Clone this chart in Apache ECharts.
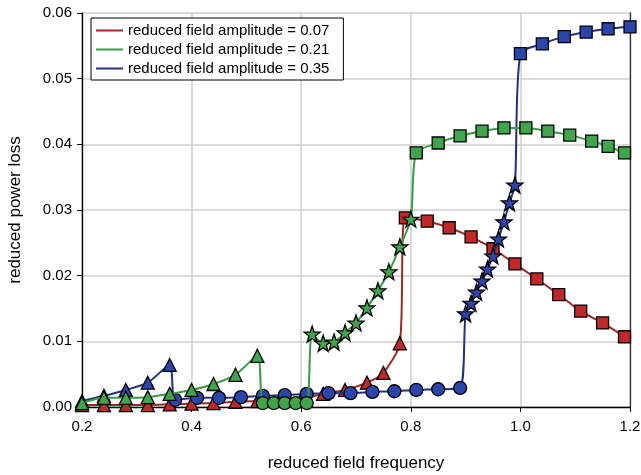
<!DOCTYPE html>
<html>
<head>
<meta charset="utf-8">
<script src="https://cdn.jsdelivr.net/npm/echarts@6/dist/echarts.min.js"></script>
<style>
html,body{margin:0;padding:0;background:#fff;}
#chart{width:641px;height:475px;}
</style>
</head>
<body>
<div id="chart"></div>
<script>
// ---- data ----
var seriesNames = ['reduced field amplitude = 0.07', 'reduced field amplitude = 0.21', 'reduced field amplitude = 0.35'];
var xTicks = [0.2, 0.4, 0.6, 0.8, 1.0, 1.2];
var yTicks = [0.00, 0.01, 0.02, 0.03, 0.04, 0.05, 0.06];

// amplitude 0.07 (red)
var redTriX = [0.20, 0.24, 0.28, 0.32, 0.36, 0.40, 0.44, 0.48, 0.52, 0.56, 0.60, 0.64, 0.68, 0.72, 0.75, 0.78];
var redTriY = [0.0003, 0.0003, 0.0003, 0.0003, 0.0004, 0.0005, 0.0006, 0.0008, 0.0009, 0.0010, 0.0012, 0.0020, 0.0026, 0.0037, 0.0052, 0.0097];
var redSqX = [0.79, 0.83, 0.87, 0.91, 0.95, 0.99, 1.03, 1.07, 1.11, 1.15, 1.19];
var redSqY = [0.0288, 0.0283, 0.0273, 0.0259, 0.0241, 0.0218, 0.0195, 0.0171, 0.0146, 0.0128, 0.0107];

// amplitude 0.21 (green)
var greenTriX = [0.20, 0.24, 0.28, 0.32, 0.36, 0.40, 0.44, 0.48, 0.52];
var greenTriY = [0.0006, 0.0014, 0.0014, 0.0015, 0.0020, 0.0026, 0.0035, 0.0049, 0.0078];
var greenCirX = [0.53, 0.55, 0.57, 0.59, 0.61];
var greenCirY = [0.0006, 0.0006, 0.0006, 0.0006, 0.0006];
var greenStarX = [0.62, 0.64, 0.66, 0.68, 0.70, 0.72, 0.74, 0.76, 0.78, 0.80];
var greenStarY = [0.0111, 0.0097, 0.0099, 0.0113, 0.0128, 0.0151, 0.0177, 0.0206, 0.0244, 0.0286];
var greenSqX = [0.81, 0.85, 0.89, 0.93, 0.97, 1.01, 1.05, 1.09, 1.13, 1.16, 1.19];
var greenSqY = [0.0387, 0.0402, 0.0413, 0.0420, 0.0425, 0.0425, 0.0420, 0.0414, 0.0405, 0.0397, 0.0387];

// amplitude 0.35 (blue)
var blueTriX = [0.20, 0.24, 0.28, 0.32, 0.36];
var blueTriY = [0.0009, 0.0017, 0.0026, 0.0037, 0.0064];
var blueCirX = [0.37, 0.41, 0.45, 0.49, 0.53, 0.57, 0.61, 0.65, 0.69, 0.73, 0.77, 0.81, 0.85, 0.89];
var blueCirY = [0.0011, 0.0014, 0.0014, 0.0015, 0.0017, 0.0018, 0.0020, 0.0021, 0.0021, 0.0023, 0.0024, 0.0026, 0.0027, 0.0029];
var blueStarX = [0.90, 0.91, 0.92, 0.93, 0.94, 0.95, 0.96, 0.97, 0.98, 0.99];
var blueStarY = [0.0142, 0.0158, 0.0175, 0.0192, 0.0210, 0.0230, 0.0256, 0.0282, 0.0311, 0.0338];
var blueSqX = [1.00, 1.04, 1.08, 1.12, 1.16, 1.20];
var blueSqY = [0.0538, 0.0553, 0.0564, 0.0571, 0.0576, 0.0579];

// ---- helpers ----
var STAR = 'path://M0,-10 L2.35,-3.24 L9.51,-3.09 L3.8,1.24 L5.88,8.09 L0,4 L-5.88,8.09 L-3.8,1.24 L-9.51,-3.09 L-2.35,-3.24 Z';
var SYM = {
  tri: {symbol: 'triangle', size: 13},
  cir: {symbol: 'circle', size: 13},
  sq: {symbol: 'rect', size: 12},
  star: {symbol: STAR, size: 16}
};
function seg(xs, ys, kind) {
  var s = SYM[kind];
  return xs.map(function (x, i) {
    return {value: [x, ys[i]], symbol: s.symbol, symbolSize: s.size};
  });
}
function mkSeries(name, data, lineColor, fillColor, z) {
  return {
    name: name,
    type: 'line',
    data: data,
    smooth: 0.25,
    z: z,
    lineStyle: {color: lineColor, width: 2},
    itemStyle: {color: fillColor, borderColor: '#000', borderWidth: 1.3},
    emphasis: {disabled: true},
    animation: false
  };
}

var redData = seg(redTriX, redTriY, 'tri').concat(seg(redSqX, redSqY, 'sq'));
var greenData = seg(greenTriX, greenTriY, 'tri').concat(seg(greenCirX, greenCirY, 'cir'), seg(greenStarX, greenStarY, 'star'), seg(greenSqX, greenSqY, 'sq'));
var blueData = seg(blueTriX, blueTriY, 'tri').concat(seg(blueCirX, blueCirY, 'cir'), seg(blueStarX, blueStarY, 'star'), seg(blueSqX, blueSqY, 'sq'));

var FONT = 'Liberation Sans, Arial, sans-serif';
var chart = echarts.init(document.getElementById('chart'), null, {renderer: 'canvas'});
chart.setOption({
  animation: false,
  backgroundColor: '#fff',
  grid: {left: 82, right: 11, top: 13, bottom: 68, containLabel: false, outerBoundsMode: 'none'},
  legend: {
    data: [
      {name: seriesNames[0], icon: 'rect', itemStyle: {color: '#9b2a24', borderWidth: 0}},
      {name: seriesNames[1], icon: 'rect', itemStyle: {color: '#3a9a45', borderWidth: 0}},
      {name: seriesNames[2], icon: 'rect', itemStyle: {color: '#23307a', borderWidth: 0}}
    ],
    orient: 'vertical',
    left: 91, top: 18,
    itemWidth: 27, itemHeight: 2, itemGap: 4,
    padding: [5, 14, 4, 5],
    backgroundColor: '#fff',
    borderColor: '#000', borderWidth: 1,
    textStyle: {fontFamily: FONT, fontSize: 15, color: '#000'}
  },
  xAxis: {
    type: 'value', min: 0.2, max: 1.2, interval: 0.2,
    name: 'reduced field frequency', nameLocation: 'middle', nameGap: 48,
    nameTextStyle: {fontFamily: FONT, fontSize: 17, color: '#000'},
    axisLine: {lineStyle: {color: '#000', width: 1.3}},
    axisTick: {inside: false, length: 5, lineStyle: {color: '#000'}},
    axisLabel: {fontFamily: FONT, fontSize: 15, color: '#000', margin: 12,
      formatter: function (v) { return v.toFixed(1); }},
    splitLine: {show: true, lineStyle: {color: '#cfcfcf', width: 1.5}}
  },
  yAxis: [{
    type: 'value', min: 0, max: 0.06, interval: 0.01,
    name: 'reduced power loss', nameLocation: 'middle', nameGap: 58,
    nameTextStyle: {fontFamily: FONT, fontSize: 17, color: '#000'},
    axisLine: {show: true, lineStyle: {color: '#000', width: 1.3}},
    axisTick: {show: true, inside: false, length: 5, lineStyle: {color: '#000'}},
    axisLabel: {fontFamily: FONT, fontSize: 15, color: '#000', margin: 10,
      formatter: function (v) { return v.toFixed(2); }},
    splitLine: {show: true, lineStyle: {color: '#cfcfcf', width: 1.5}}
  }, {
    type: 'value', min: 0, max: 0.06, interval: 0.01, position: 'right',
    axisLine: {show: true, lineStyle: {color: '#333', width: 1.3}},
    axisTick: {show: false}, axisLabel: {show: false}, splitLine: {show: false}
  }],
  series: [
    mkSeries(seriesNames[0], redData, '#9b2a24', '#c0282a', 2),
    mkSeries(seriesNames[2], blueData, '#23307a', '#2b45ab', 3),
    mkSeries(seriesNames[1], greenData, '#3a9a45', '#3fa64c', 4)
  ]
});
</script>
</body>
</html>
